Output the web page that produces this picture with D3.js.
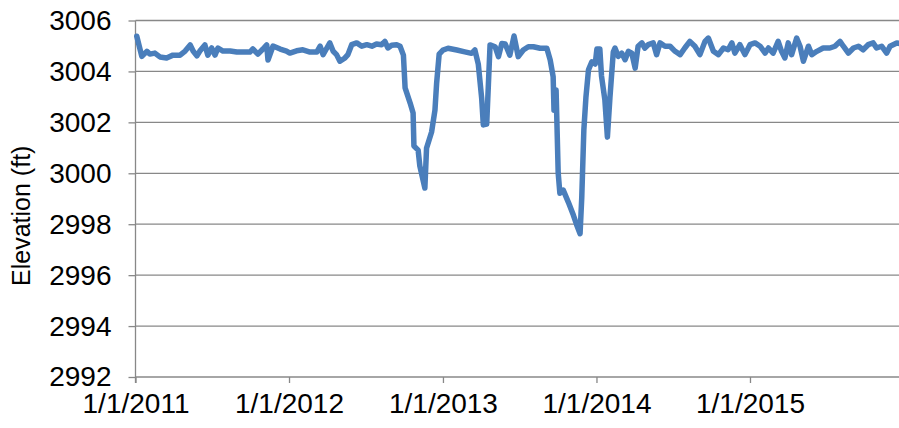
<!DOCTYPE html>
<html>
<head>
<meta charset="utf-8">
<script src="https://cdn.jsdelivr.net/npm/d3@7"></script>
<style>
  body { margin: 0; background: #fff; }
  svg { display: block; font-family: "Liberation Sans", Arial, sans-serif; }
</style>
</head>
<body>
<svg id="chart" width="899" height="428"></svg>
<script>
// reservoir elevation
var dates = [
  "2011-01-04","2011-01-16","2011-01-28","2011-02-04","2011-02-16","2011-02-28","2011-03-16","2011-03-31",
  "2011-04-17","2011-04-29","2011-05-11","2011-05-18","2011-05-27","2011-06-03","2011-06-15","2011-06-22",
  "2011-07-01","2011-07-09","2011-07-16","2011-07-28","2011-08-14","2011-08-30","2011-09-14","2011-09-30",
  "2011-10-07","2011-10-19","2011-10-31","2011-11-09","2011-11-12","2011-11-24","2011-12-11","2011-12-26",
  "2012-01-03","2012-01-19","2012-02-03","2012-02-20","2012-03-07","2012-03-15","2012-03-22","2012-03-31",
  "2012-04-07","2012-04-15","2012-04-23","2012-05-01","2012-05-13","2012-05-20","2012-05-29","2012-06-10",
  "2012-06-22","2012-07-04","2012-07-16","2012-07-27","2012-08-08","2012-08-16","2012-08-23","2012-09-01",
  "2012-09-13","2012-09-21","2012-09-29","2012-10-03","2012-10-15","2012-10-22","2012-10-24","2012-11-03",
  "2012-11-07","2012-11-19","2012-11-23","2012-12-05","2012-12-13","2012-12-17","2012-12-23",
  "2013-01-01","2013-01-13","2013-02-03","2013-02-22","2013-03-10","2013-03-18","2013-03-26","2013-04-03",
  "2013-04-07","2013-04-15","2013-04-19","2013-04-23","2013-05-05","2013-05-13","2013-05-21","2013-05-29",
  "2013-06-09","2013-06-19","2013-06-29","2013-07-11","2013-07-23","2013-08-04","2013-08-20","2013-09-05",
  "2013-09-13","2013-09-20","2013-09-22","2013-09-27","2013-10-02","2013-10-06","2013-10-14","2013-10-26",
  "2013-11-07","2013-11-15","2013-11-23","2013-11-27","2013-12-02","2013-12-07","2013-12-13","2013-12-21",
  "2013-12-29",
  "2014-01-02","2014-01-09","2014-01-13","2014-01-21","2014-01-27","2014-02-02","2014-02-10","2014-02-14",
  "2014-02-22","2014-03-02","2014-03-10","2014-03-18","2014-03-26","2014-04-03","2014-04-10","2014-04-19",
  "2014-04-26","2014-05-04","2014-05-16","2014-05-24","2014-06-01","2014-06-13","2014-06-25","2014-07-07",
  "2014-07-19","2014-07-30","2014-08-11","2014-08-23","2014-09-04","2014-09-16","2014-09-24","2014-10-06",
  "2014-10-18","2014-10-30","2014-11-10","2014-11-19","2014-11-26","2014-12-08","2014-12-20",
  "2015-01-01","2015-01-13","2015-01-25","2015-02-06","2015-02-14","2015-02-25","2015-03-09","2015-03-17",
  "2015-03-25","2015-04-02","2015-04-10","2015-04-22","2015-04-30","2015-05-08","2015-05-20","2015-05-28",
  "2015-06-09","2015-06-24","2015-07-10","2015-07-22","2015-08-03","2015-08-11","2015-08-23","2015-09-04",
  "2015-09-16","2015-09-27","2015-10-09","2015-10-21","2015-10-29","2015-11-10","2015-11-22","2015-11-30",
  "2015-12-16","2015-12-31"
];
var elevation = [
  3005.38,3004.59,3004.79,3004.68,3004.72,3004.57,3004.53,3004.64,
  3004.64,3004.80,3005.04,3004.80,3004.61,3004.80,3005.04,3004.64,
  3004.92,3004.64,3004.92,3004.80,3004.80,3004.76,3004.76,3004.76,
  3004.88,3004.68,3004.88,3005.04,3004.45,3005.00,3004.88,3004.80,
  3004.72,3004.81,3004.85,3004.76,3004.76,3004.99,3004.66,3004.92,
  3005.12,3004.79,3004.66,3004.40,3004.53,3004.66,3005.05,3005.12,
  3004.99,3005.05,3004.99,3005.08,3005.05,3005.18,3004.92,3005.03,
  3005.05,3004.99,3004.64,3003.35,3002.76,3002.37,3001.07,3000.91,
  3000.29,2999.42,3000.99,3001.62,3002.48,3003.55,3004.68,
  3004.84,3004.91,3004.84,3004.77,3004.71,3004.84,3004.29,3002.96,
  3001.90,3001.93,3003.47,3005.04,3004.97,3004.58,3005.10,3005.08,
  3004.64,3005.39,3004.58,3004.84,3004.97,3004.97,3004.91,3004.91,
  3004.45,3003.79,3002.48,3003.27,3000.01,2999.22,2999.34,2998.87,
  2998.36,2997.97,2997.63,2999.03,3001.70,3003.00,3004.06,3004.38,
  3004.29,
  3004.88,3004.88,3003.82,3002.88,3001.42,3002.96,3004.76,3004.92,
  3004.59,3004.72,3004.46,3004.79,3004.72,3004.13,3004.99,3005.12,
  3004.92,3005.05,3005.12,3004.66,3005.12,3004.99,3004.99,3004.79,
  3004.66,3004.92,3005.18,3004.99,3004.66,3005.18,3005.31,3004.79,
  3004.66,3004.92,3004.85,3005.12,3004.72,3005.05,3004.66,
  3005.05,3005.12,3004.99,3004.72,3004.92,3004.72,3005.18,3004.79,
  3004.53,3005.12,3004.66,3005.31,3004.99,3004.40,3004.99,3004.66,
  3004.79,3004.92,3004.92,3004.99,3005.18,3004.99,3004.72,3004.92,
  3004.99,3004.85,3005.05,3005.12,3004.92,3004.99,3004.72,3004.99,
  3005.12,3005.06
];
var yTicks = [2992, 2994, 2996, 2998, 3000, 3002, 3004, 3006];
var xTicks = ["2011-01-01", "2012-01-01", "2013-01-01", "2014-01-01", "2015-01-01"];

(function() {
  var svg = d3.select('#chart');
  var plotLeft = 135.5, plotTop = 20.5, plotBottom = 377, plotRight = 903.5;
  var axisColor = '#888888';
  var font = '"Liberation Sans", Arial, sans-serif';

  var parse = d3.utcParse('%Y-%m-%d');
  var x = d3.scaleUtc()
    .domain([parse('2011-01-01'), parse('2016-01-01')])
    .range([plotLeft, plotRight]);
  var y = d3.scaleLinear()
    .domain([2992, 3006])
    .range([plotBottom, plotTop]);

  // gridlines
  svg.append('g')
    .selectAll('line')
    .data(yTicks.filter(function(d) { return d !== 2992; }))
    .enter().append('line')
    .attr('x1', plotLeft).attr('x2', 899)
    .attr('y1', function(d) { return y(d); })
    .attr('y2', function(d) { return y(d); })
    .attr('stroke', axisColor)
    .attr('stroke-width', 1.3);

  // y axis
  var yAxis = svg.append('g')
    .attr('transform', 'translate(' + plotLeft + ',0)')
    .call(d3.axisLeft(y).tickValues(yTicks).tickSize(7).tickPadding(17).tickFormat(d3.format('d')));
  yAxis.select('.domain').attr('stroke', axisColor).attr('stroke-width', 1.3)
    .attr('d', 'M0,' + plotTop + 'V' + (plotBottom + 6));
  yAxis.selectAll('.tick line').attr('stroke', axisColor).attr('stroke-width', 1.3);
  yAxis.selectAll('.tick text')
    .attr('font-size', 28).attr('fill', '#000').attr('font-family', font);

  // x axis
  var xAxis = svg.append('g')
    .attr('transform', 'translate(0,' + plotBottom + ')')
    .call(d3.axisBottom(x).tickValues(xTicks.map(parse)).tickSize(6).tickPadding(10)
      .tickFormat(d3.utcFormat('%-m/%-d/%Y')));
  xAxis.select('.domain').attr('stroke', axisColor).attr('stroke-width', 1.3)
    .attr('d', 'M' + plotLeft + ',0H899');
  xAxis.selectAll('.tick line').attr('stroke', axisColor).attr('stroke-width', 1.3);
  xAxis.selectAll('.tick text')
    .attr('font-size', 28).attr('fill', '#000').attr('font-family', font);

  // y label
  svg.append('text')
    .attr('transform', 'translate(30,' + ((plotTop + plotBottom) / 2 + 17) + ') rotate(-90)')
    .attr('text-anchor', 'middle')
    .attr('font-size', 25)
    .attr('font-family', font)
    .attr('fill', '#000')
    .text('Elevation (ft)');

  // series
  var series = dates.map(function(d, i) { return { date: parse(d), value: elevation[i] }; });
  var line = d3.line()
    .x(function(d) { return x(d.date); })
    .y(function(d) { return y(d.value); });

  svg.append('path')
    .datum(series)
    .attr('d', line)
    .attr('fill', 'none')
    .attr('stroke', '#4a7ebb')
    .attr('stroke-width', 5.5)
    .attr('stroke-linejoin', 'round')
    .attr('stroke-linecap', 'round');
})();
</script>
</body>
</html>
